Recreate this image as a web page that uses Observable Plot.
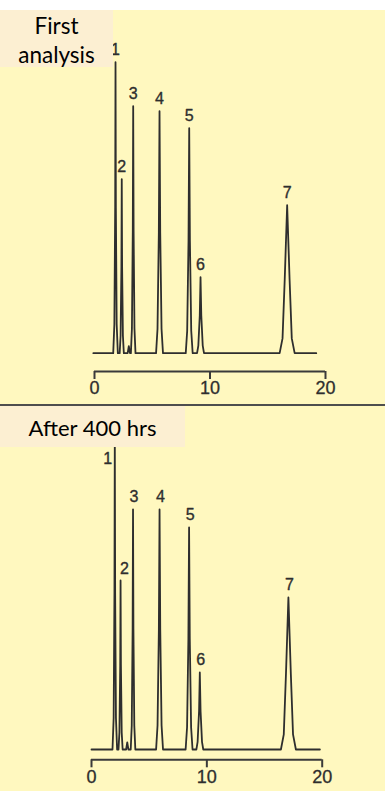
<!DOCTYPE html>
<html>
<head>
<meta charset="utf-8">
<script src="https://cdn.jsdelivr.net/npm/d3@7"></script>
<script src="https://cdn.jsdelivr.net/npm/@observablehq/plot@0.6"></script>
<style>
html, body { margin: 0; padding: 0; background: #ffffff; }
#wrap { width: 385px; }
.strip { height: 10px; background: #ffffff; }
.panel { position: relative; background: #FFF8BF; overflow: hidden; }
.sep { height: 2px; background: #4e4e4e; }
.tag { position: absolute; left: 0; top: 0; background: #FCEFD2; font-family: Lato, "Open Sans", sans-serif; color: #000; text-align: center; z-index: 2; }
#tag1 { width: 113px; height: 57px; font-size: 22.5px; line-height: 29px; padding-top: 1px; box-sizing: border-box; }
#tag2 { width: 185px; height: 41px; font-size: 22px; line-height: 40px; padding-top: 2px; box-sizing: border-box; }
svg { display: block; }
</style>
</head>
<body>
<div id="wrap">
  <div class="strip"></div>
  <div class="panel" id="panel1" style="height:394px"><div class="tag" id="tag1">First<br>analysis</div></div>
  <div class="sep"></div>
  <div class="panel" id="panel2" style="height:385px"><div class="tag" id="tag2">After 400 hrs</div></div>
</div>
<script>
// Retention time axis (minutes)
const tickValues = [0, 10, 20];
const peakLabels = ["1", "2", "3", "4", "5", "6", "7"];

// Peak widths (minutes): full width at half height, at ~10% height, and at the baseline
const halfWidths = [0.06, 0.06, 0.07, 0.12, 0.12, 0.13, 0.42];
const footWidths = [0.20, 0.20, 0.22, 0.35, 0.35, 0.38, 0.80];
const baseWidths = [0.40, 0.36, 0.40, 0.60, 0.60, 0.60, 1.30];

// First analysis: retention times and peak heights
const run1Times = [1.82, 2.36, 3.35, 5.63, 8.20, 9.18, 16.68];
const run1Heights = [291, 174, 247, 242, 225, 76, 148];
const run1BumpTimes = [2.97];
const run1BumpHeights = [7];
const run1Start = -0.1, run1End = 19.2;

// After 400 hrs
const run2Times = [2.02, 2.52, 3.60, 5.90, 8.46, 9.39, 17.07];
const run2Heights = [315, 169, 240, 240, 222, 77, 152];
const run2BumpTimes = [3.10];
const run2BumpHeights = [7];
const run2Start = 0.0, run2End = 19.8;

function buildTrace(times, heights, bumpT, bumpH, t0, t1) {
  const items = [];
  times.forEach((t, i) => items.push({t, h: heights[i], b: baseWidths[i], f: footWidths[i], w: halfWidths[i]}));
  bumpT.forEach((t, i) => items.push({t, h: bumpH[i], b: 0.2, f: null, w: null}));
  items.sort((a, c) => a.t - c.t);
  const pts = [{x: t0, y: 0}];
  for (const p of items) {
    pts.push({x: p.t - p.b / 2, y: 0});
    if (p.f != null) pts.push({x: p.t - p.f / 2, y: p.h * 0.1});
    if (p.w != null) pts.push({x: p.t - p.w / 2, y: p.h / 2});
    pts.push({x: p.t, y: p.h});
    if (p.w != null) pts.push({x: p.t + p.w / 2, y: p.h / 2});
    if (p.f != null) pts.push({x: p.t + p.f / 2, y: p.h * 0.1});
    pts.push({x: p.t + p.b / 2, y: 0});
  }
  pts.push({x: t1, y: 0});
  return pts;
}

const font = "'Liberation Sans', Arial, sans-serif";
const ink = "#2e2e2e";

function chart(opts) {
  const {times, heights, trace, width, height, mL, mR, mT, mB, yMin, yMax, labelMarks} = opts;
  const labels = times.map((t, i) => ({t, h: heights[i], label: peakLabels[i]}));
  return Plot.plot({
    width, height,
    marginLeft: mL, marginRight: mR, marginTop: mT, marginBottom: mB,
    x: {domain: [0, 20]},
    y: {domain: [yMin, yMax], axis: null},
    style: {background: "transparent", overflow: "visible"},
    marks: [
      Plot.ruleY([yMin], {x1: 0, x2: 20, stroke: "#3a3a3a", strokeWidth: 2}),
      Plot.axisX({ticks: tickValues, tickSize: 8, tickPadding: 2, stroke: "#3a3a3a", strokeWidth: 2,
        fill: ink, fontSize: 18, fontFamily: font, label: null, tickFormat: d => String(d),
        textStroke: ink, textStrokeWidth: 0.3}),
      Plot.line(trace, {x: "x", y: "y", stroke: ink, strokeWidth: 1.8, strokeLinejoin: "round", curve: "linear"}),
      ...labelMarks(labels)
    ]
  });
}

const labelStyle = {fontSize: 16, fontFamily: font, fill: ink, stroke: ink, strokeWidth: 0.35};

const trace1 = buildTrace(run1Times, run1Heights, run1BumpTimes, run1BumpHeights, run1Start, run1End);
const c1 = chart({
  times: run1Times, heights: run1Heights, trace: trace1,
  width: 385, height: 394, mL: 94, mR: 60, mT: 42.7, mB: 33, yMin: -18.3, yMax: 300,
  labelMarks: labels => [
    Plot.text(labels, {x: "t", y: "h", text: "label", dy: -12, ...labelStyle})
  ]
});
document.getElementById("panel1").appendChild(c1);

const trace2 = buildTrace(run2Times, run2Heights, run2BumpTimes, run2BumpHeights, run2Start, run2End);
const c2 = chart({
  times: run2Times, heights: run2Heights, trace: trace2,
  width: 385, height: 385, mL: 91, mR: 63.3, mT: 43, mB: 31.7, yMin: -10.3, yMax: 300,
  labelMarks: labels => [
    Plot.text(labels.filter(d => d.label !== "1" && d.label !== "2"), {x: "t", y: "h", text: "label", dy: -13, dx: 1, ...labelStyle}),
    Plot.text(labels.filter(d => d.label === "2"), {x: "t", y: "h", text: "label", dy: -12, dx: 4, ...labelStyle}),
    Plot.text(labels.filter(d => d.label === "1"), {x: "t", y: 291, text: "label", dx: -7, ...labelStyle})
  ]
});
document.getElementById("panel2").appendChild(c2);
</script>
</body>
</html>
